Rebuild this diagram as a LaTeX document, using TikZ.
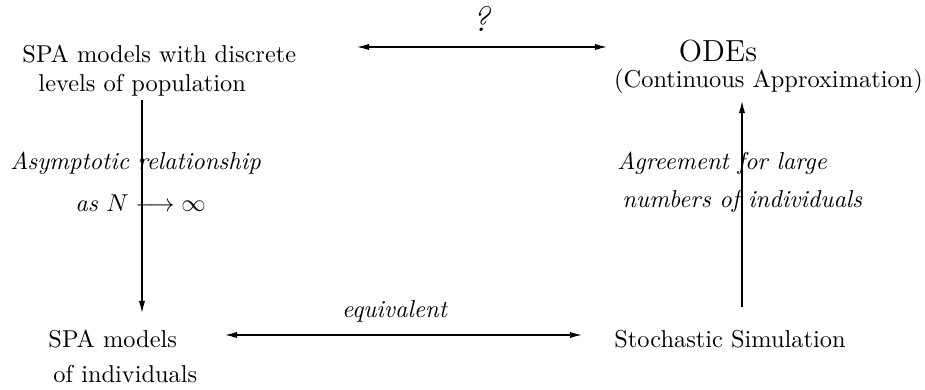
\documentclass[tikz,border=0pt]{standalone}
\usetikzlibrary{arrows.meta}
\begin{document}
\begin{tikzpicture}[x=0.41pt,y=-0.41pt,
  txt/.style={inner sep=0pt,anchor=base},
  txtw/.style={inner sep=0pt,anchor=base west},
  conn/.style={line width=0.5pt,-{Latex[length=5pt,width=2.6pt]}},
  conn2/.style={line width=0.5pt,{Latex[length=5pt,width=2.6pt]}-{Latex[length=5pt,width=2.6pt]}}]
\useasboundingbox (0,0) rectangle (925,390);
% top-left
\node[txtw] (spa1a) at (22,63) {SPA models with discrete};
\node[txtw] (spa1b) at (38,92) {levels of population};
% top-right
\node[txt] (ode) at (718,62) {\fontsize{12.5}{15}\selectfont ODEs};
\node[txt] (odeb) at (768.5,88) {(Continuous Approximation)};
% bottom-left
\node[txtw] (spa2a) at (48,348) {SPA models};
\node[txtw] (spa2b) at (53,383) {of individuals};
% bottom-right
\node[txt] (sim) at (730,348) {Stochastic Simulation};
% labels
\node[txt] (q) at (482,32) {\Large\textit{?}};
\node[txtw] (asy1) at (10,170) {\textit{Asymptotic relationship}};
\node[txtw] (asy2) at (75,212) {\textit{as} $N \longrightarrow \infty$};
\node[txtw] (agr1) at (617,170) {\textit{Agreement for large}};
\node[txtw] (agr2) at (622,208) {\textit{numbers of individuals}};
\node[txt] (eq) at (395,318) {\textit{equivalent}};
% connector endpoints
\coordinate (tl) at (357,47);
\coordinate (tr) at (607,47);
\coordinate (bl) at (225,335);
\coordinate (br) at (582,335);
\coordinate (lt) at (142,100);
\coordinate (lb) at (142,313);
\coordinate (rb) at (742,307);
\coordinate (rt) at (742,101);
\draw[conn2] (tl) -- (tr);
\draw[conn2] (bl) -- (br);
\draw[conn] (lt) -- (lb);
\draw[conn] (rb) -- (rt);
\end{tikzpicture}
\end{document}
